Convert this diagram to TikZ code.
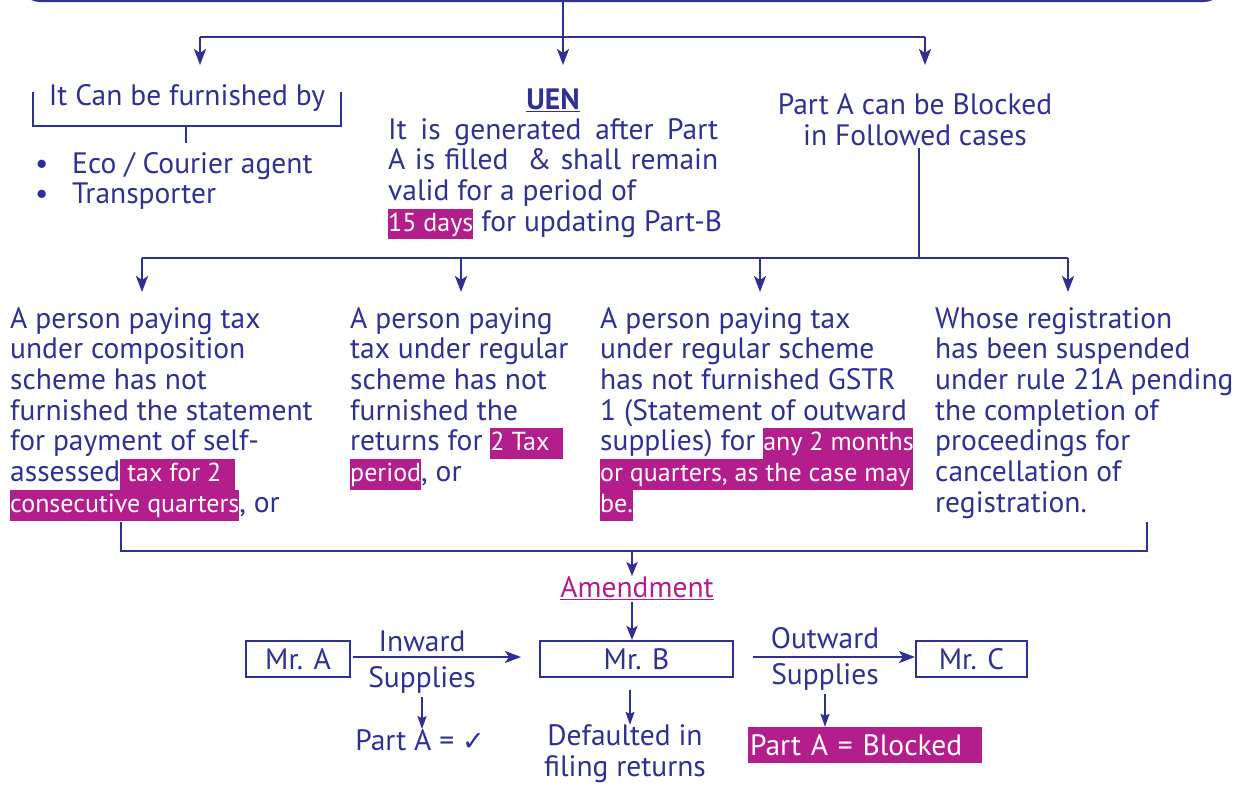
\documentclass[tikz,border=0pt]{standalone}
\usepackage{fontspec}
\setmainfont{PT Sans}
\newfontfamily\symfont{DejaVu Sans}
\usetikzlibrary{arrows.meta}
\definecolor{navy}{RGB}{46,49,146}
\definecolor{mag}{RGB}{180,30,140}
\newcommand{\hlfont}{\fontsize{26}{30.7}\selectfont}
\newcommand{\hl}[1]{{\setlength{\fboxsep}{0pt}\colorbox{mag}{\textcolor{white}{\hlfont\rule[-8.2pt]{0pt}{30.7pt}#1}}}}
\newcommand{\hlw}[2]{{\setlength{\fboxsep}{0pt}\colorbox{mag}{\textcolor{white}{\hlfont\rule[-8.2pt]{0pt}{30.7pt}\makebox[#1][l]{#2}}}}}
\tikzset{
  x=1pt, y=-1pt,
  txt/.style={text=navy, font=\fontsize{29.5}{30.7}\selectfont, inner sep=0pt},
  blk/.style={txt, align=left, anchor=north west},
  line/.style={draw=navy, line width=2.5pt},
  arr/.style={line, -{Stealth[length=16pt,width=12pt,inset=4pt]}},
  arrm/.style={line, -{Stealth[length=14pt,width=11pt,inset=3pt]}},
  arrs/.style={draw=navy, line width=1.6pt, -{Stealth[length=13pt,width=9pt,inset=2pt]}},
  box/.style={draw=navy, line width=2pt, txt, minimum height=36pt},
}
\begin{document}
\begin{tikzpicture}
\useasboundingbox (0,0) rectangle (1238,787);
\fill[white] (0,0) rectangle (1238,787);
% top box (cut off)
\node[draw=navy, line width=4.5pt, rounded corners=20pt, minimum width=1203pt, minimum height=80pt, anchor=south] (top) at (622,2) {};
\coordinate (s1) at (563,37);
\coordinate (l1) at (200,37);
\coordinate (r1) at (925,37);
\coordinate (a1) at (200,65);
\coordinate (a2) at (563,65);
\coordinate (a3) at (925,65);
\draw[line] (top.south -| s1) -- (s1);
\draw[line] (l1) -- (r1);
\draw[arr] (l1) -- (a1);
\draw[arr] (s1) -- (a2);
\draw[arr] (r1) -- (a3);
% left: furnished by
\node[txt] (furn) at (187,98) {It Can be furnished by};
\draw[line, line width=1.8pt] (33,92) -- (33,126) -- (341,126) -- (341,92);
\draw[line, line width=1.8pt] (186,126) -- (186,143);
\node[blk] (bul) at (35,152) {\makebox[37pt][l]{\textbullet}Eco / Courier agent\\ \makebox[37pt][l]{\textbullet}Transporter};
% UEN
\node[txt, font=\fontsize{29.5}{30.7}\selectfont\bfseries] (uen) at (553,100) {\underline{UEN}};
\node[blk] (uentxt) at (388,118) {\makebox[330pt][s]{It is generated after Part}\\
 \makebox[330pt][s]{A is filled \ \& shall remain}\\
 valid for a period of\\
 \hl{15 days} for updating Part-B};
% Part A blocked
\node[txt, align=center] (blocked) at (915,120) {Part A can be Blocked\\ in Followed cases};
\coordinate (s2) at (919,258);
\draw[line] (blocked.south -| s2) ++(0,2) -- (s2);
\coordinate (l2) at (142,258);
\coordinate (r2) at (1068,258);
\coordinate (m2a) at (461,258);
\coordinate (m2b) at (760,258);
\draw[line] (l2) -- (r2);
\draw[arr] (l2) -- (142,292);
\draw[arr] (m2a) -- (461,292);
\draw[arr] (m2b) -- (760,292);
\draw[arr] (r2) -- (1068,292);
% four blocks
\node[blk] (b1) at (10,307) {A person paying tax\\ under composition\\ scheme has not\\ furnished the statement\\ for payment of self-\\ assessed\hl{ tax for 2 \ }\\ \hl{consecutive quarters}, or};
\node[blk] (b2) at (350,307) {A person paying\\ tax under regular\\ scheme has not\\ furnished the\\ returns for \hl{2 Tax \ }\\ \hl{period}, or};
\node[blk] (b3) at (600,307) {A person paying tax\\ under regular scheme\\ has not furnished GSTR\\ 1 (Statement of outward\\ supplies) for \hlw{150pt}{any 2 months}\\ \hlw{313pt}{or quarters, as the case may}\\ \hl{be.}};
\node[blk] (b4) at (935,307) {Whose registration\\ has been suspended\\ under rule 21A pending\\ the completion of\\ proceedings for\\ cancellation of\\ registration.};
% bottom bracket
\coordinate (bl) at (121,551);
\coordinate (br) at (1147,551);
\coordinate (bm) at (632,551);
\draw[line] (121,522) -- (bl) -- (br) -- (1147,522);
\node[txt, text=mag] (amend) at (637,588) {\underline{Amendment}};
\draw[arrm] (bm) -- (amend.north -| bm);
% boxes
\node[box, minimum width=104pt] (mra) at (298,659) {Mr. A};
\node[box, minimum width=193pt] (mrb) at (636.5,659) {Mr. B};
\node[box, minimum width=111pt] (mrc) at (971.5,659) {Mr. C};
\draw[arrm] (amend.south -| bm) ++(0,2) -- (mrb.north -| bm);
\draw[arr] ([yshift=2pt]mra.east) ++(2,0) -- ([yshift=2pt,xshift=-18pt]mrb.west);
\draw[arr] ([yshift=2pt]mrb.east) ++(19,0) -- ([yshift=2pt]mrc.west);
\node[txt] (inw) at (422,641) {Inward};
\node[txt] (insup) at (422,680) {Supplies};
\node[txt] (outw) at (825,638) {Outward};
\node[txt] (outsup) at (825,677) {Supplies};
\node[txt] (pa) at (420,740) {Part A = {\symfont\fontsize{27}{28}\selectfont ✓}};
\node[txt, align=center] (def) at (625,754) {Defaulted in\\ filing returns};
\node[fill=mag, minimum width=234pt, minimum height=36pt, text=white, font=\fontsize{29.5}{30.7}\selectfont, inner sep=0pt, text width=230pt, align=left] (pab) at (865,745) {Part A = Blocked};
\draw[arrs] (insup.south) ++(0,3) -- (pa.north -| insup);
\draw[arrs] (mrb.south -| 630,0) ++(0,12) -- (def.north -| 630,0);
\draw[arrs] (outsup.south) ++(0,3) -- (pab.north -| outsup);
\end{tikzpicture}
\end{document}
